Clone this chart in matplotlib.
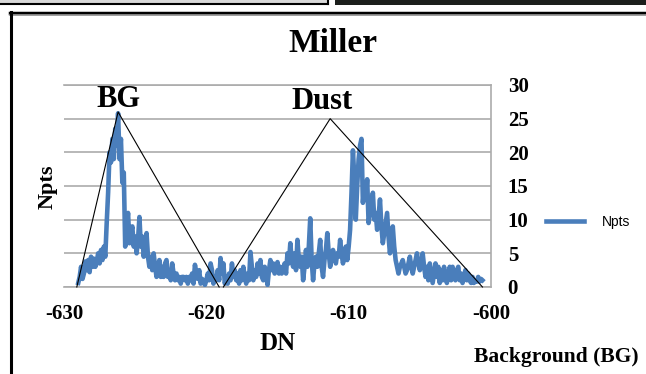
import matplotlib
matplotlib.use("Agg")
import numpy as np
import matplotlib.pyplot as plt
from matplotlib.lines import Line2D
from matplotlib.patches import Rectangle

plt.rcParams["axes.unicode_minus"] = False

# Npts per DN bin (bins of 0.1 DN starting at -629.0)
dn_first = -629.0
dn_step = 0.1
npts = [
    0.6, 1.5, 3.0, 1.2, 2.0, 3.8, 2.5, 4.0, 2.2, 4.5,
    3.0, 4.2, 3.0, 3.8, 5.0, 3.5, 5.5, 4.0, 6.0, 4.5,
    9.5, 14.0, 20.0, 18.5, 22.0, 19.0, 23.5, 21.0, 25.8, 19.0,
    22.0, 15.5, 17.0, 6.0, 9.0, 11.0, 6.5, 8.0, 9.0, 6.0,
    7.5, 5.0, 7.0, 10.4, 6.0, 7.5, 4.5, 6.0, 8.0, 4.5,
    3.0, 4.5, 2.5, 5.0, 3.0, 1.5, 3.0, 4.0, 1.5, 3.0,
    1.5, 3.5, 4.0, 1.5, 2.5, 1.0, 3.5, 2.0, 1.0, 2.0,
    1.0, 1.5, 0.5, 1.5, 1.5, 1.0, 1.5, 0.5, 1.5, 1.0,
    2.0, 0.5, 3.3, 2.0, 1.2, 2.5, 0.5, 1.2, 1.0, 0.3,
    1.0, 2.0, 1.0, 3.5, 2.5, 0.5, 1.5, 1.0, 2.5, 1.0,
    4.3, 2.0, 3.5, 0.5, 1.5, 0.5, 2.0, 1.0, 3.5, 1.5,
    2.5, 1.0, 2.0, 0.5, 2.5, 1.0, 3.0, 1.5, 0.5, 2.0,
    1.0, 5.2, 3.0, 1.0, 2.5, 1.5, 3.5, 2.0, 4.0, 1.5,
    1.0, 3.0, 2.0, 0.3, 2.5, 4.0, 2.5, 3.5, 2.0, 3.0,
    3.7, 2.0, 3.0, 2.0, 2.5, 3.5, 2.0, 5.0, 3.5, 6.5,
    4.0, 3.0, 5.0, 2.5, 7.0, 4.0, 3.0, 4.5, 1.0, 3.0,
    5.5, 3.0, 6.0, 10.2, 4.0, 1.0, 3.5, 4.5, 3.0, 5.0,
    7.0, 3.0, 1.5, 4.0, 5.5, 8.0, 5.0, 3.0, 4.5, 5.5,
    4.5, 3.5, 5.0, 4.5, 7.0, 5.0, 3.5, 4.5, 6.0, 4.0,
    6.0, 8.5, 14.0, 20.3, 16.0, 10.0, 15.0, 19.0, 21.0, 22.0,
    12.5, 15.0, 13.0, 16.0, 9.5, 11.0, 12.0, 14.0, 10.0, 11.0,
    8.5, 10.5, 13.0, 9.0, 6.5, 8.0, 9.5, 11.0, 7.5, 5.0,
    7.0, 9.0, 6.0, 4.0, 3.0, 2.0, 3.0, 3.5, 4.0, 3.0,
    2.0, 2.5, 3.5, 4.5, 3.0, 2.0, 3.0, 4.0, 5.0, 3.5,
    2.5, 3.5, 5.0, 3.0, 1.5, 3.0, 1.0, 3.5, 2.0, 0.6,
    2.0, 3.5, 1.5, 3.0, 0.6, 2.5, 1.0, 3.0, 1.5, 0.6,
    2.0, 3.0, 1.0, 3.0, 1.5, 1.0, 2.5, 3.0, 1.0, 2.0,
    0.6, 1.5, 2.5, 1.0, 2.0, 1.0, 0.6, 1.5, 0.6, 1.0,
    0.8, 1.5, 0.8, 1.2, 1.0,
]
dn = np.round(dn_first + dn_step * np.arange(len(npts)), 1)

# Triangle outlines marking the background and dust regions
bg_tri_dn = [-629.1, -626.2, -619.1]
bg_tri_npts = [0, 26, 0]
dust_tri_dn = [-618.8, -611.3, -600.6]
dust_tri_npts = [0, 25, 0]

x_ticks = [-630, -620, -610, -600]
y_ticks = [0, 5, 10, 15, 20, 25, 30]

W, H = 646, 374
serif = "Liberation Serif"
blue = "#4A7EBB"

fig = plt.figure(figsize=(W / 100, H / 100), dpi=100)
fig.patch.set_facecolor("white")

# outer frame pieces
fig.add_artist(Rectangle((0, 1 - 4 / H), 328 / W, 4 / H, transform=fig.transFigure,
                         facecolor="#d8d8d8", edgecolor="none"))
fig.add_artist(Line2D([0, 328 / W], [1 - 4 / H, 1 - 4 / H], transform=fig.transFigure,
                      color="black", lw=1.5))
fig.add_artist(Line2D([328 / W, 328 / W], [1 - 4 / H, 1], transform=fig.transFigure,
                      color="black", lw=1.5))
fig.add_artist(Rectangle((335 / W, 1 - 5 / H), (W - 335) / W, 5 / H, transform=fig.transFigure,
                         facecolor="#1c1f1c", edgecolor="none"))
fig.add_artist(Line2D([10 / W, 1], [1 - 12.5 / H, 1 - 12.5 / H], transform=fig.transFigure,
                      color="black", lw=2.5))
fig.add_artist(Line2D([10 / W, 1], [1 - 15 / H, 1 - 15 / H], transform=fig.transFigure,
                      color="#9a9a9a", lw=1.2))
fig.add_artist(Line2D([11 / W, 11 / W], [0, 1 - 12 / H], transform=fig.transFigure,
                      color="black", lw=2.2))

ax = fig.add_axes([64 / W, 1 - 287 / H, (491 - 64) / W, (287 - 85) / H])
ax.set_xlim(-630, -600)
ax.set_ylim(0, 30)
ax.yaxis.tick_right()
ax.set_yticks(y_ticks)
ax.set_xticks(x_ticks)
ax.tick_params(length=0, pad=12)
for lab in ax.get_xticklabels() + ax.get_yticklabels():
    lab.set_fontfamily(serif)
    lab.set_fontweight("bold")
    lab.set_fontsize(15)
ax.grid(axis="y", color="#ababab", lw=1.2)
ax.set_axisbelow(True)
ax.spines["left"].set_visible(False)
for side in ["top", "right", "bottom"]:
    ax.spines[side].set_color("#ababab")
    ax.spines[side].set_linewidth(1.2)

line, = ax.plot(dn, npts, color=blue, lw=3.3, solid_joinstyle="round", label="Npts", zorder=3)
ax.plot(bg_tri_dn, bg_tri_npts, color="black", lw=0.8, zorder=4, clip_on=False)
ax.plot(dust_tri_dn, dust_tri_npts, color="black", lw=0.8, zorder=4, clip_on=False)

ax.text(-626.2, 27.9, "BG", ha="center", va="center", family=serif, weight="bold", fontsize=22)
ax.text(-611.9, 27.5, "Dust", ha="center", va="center", family=serif, weight="bold", fontsize=22)

fig.text(333 / W, 1 - 44 / H, "Miller", ha="center", va="center", family=serif,
         weight="bold", fontsize=24)
fig.text(48 / W, 1 - 187 / H, "Npts", rotation=90, ha="center", va="center", family=serif,
         weight="bold", fontsize=16)
fig.text(278 / W, 1 - 343 / H, "DN", ha="center", va="center", family=serif,
         weight="bold", fontsize=18)
fig.text(474 / W, 1 - 357 / H, "Background (BG)", ha="left", va="center", family=serif,
         weight="bold", fontsize=15.5)

fig.legend(handles=[line], loc="center left", bbox_to_anchor=(546 / W, 1 - 222 / H),
           bbox_transform=fig.transFigure, frameon=False, handlelength=2.7,
           handletextpad=1.3, borderpad=0, borderaxespad=0,
           prop={"family": "Liberation Sans", "size": 10})

fig.savefig("out.png", dpi=100)
